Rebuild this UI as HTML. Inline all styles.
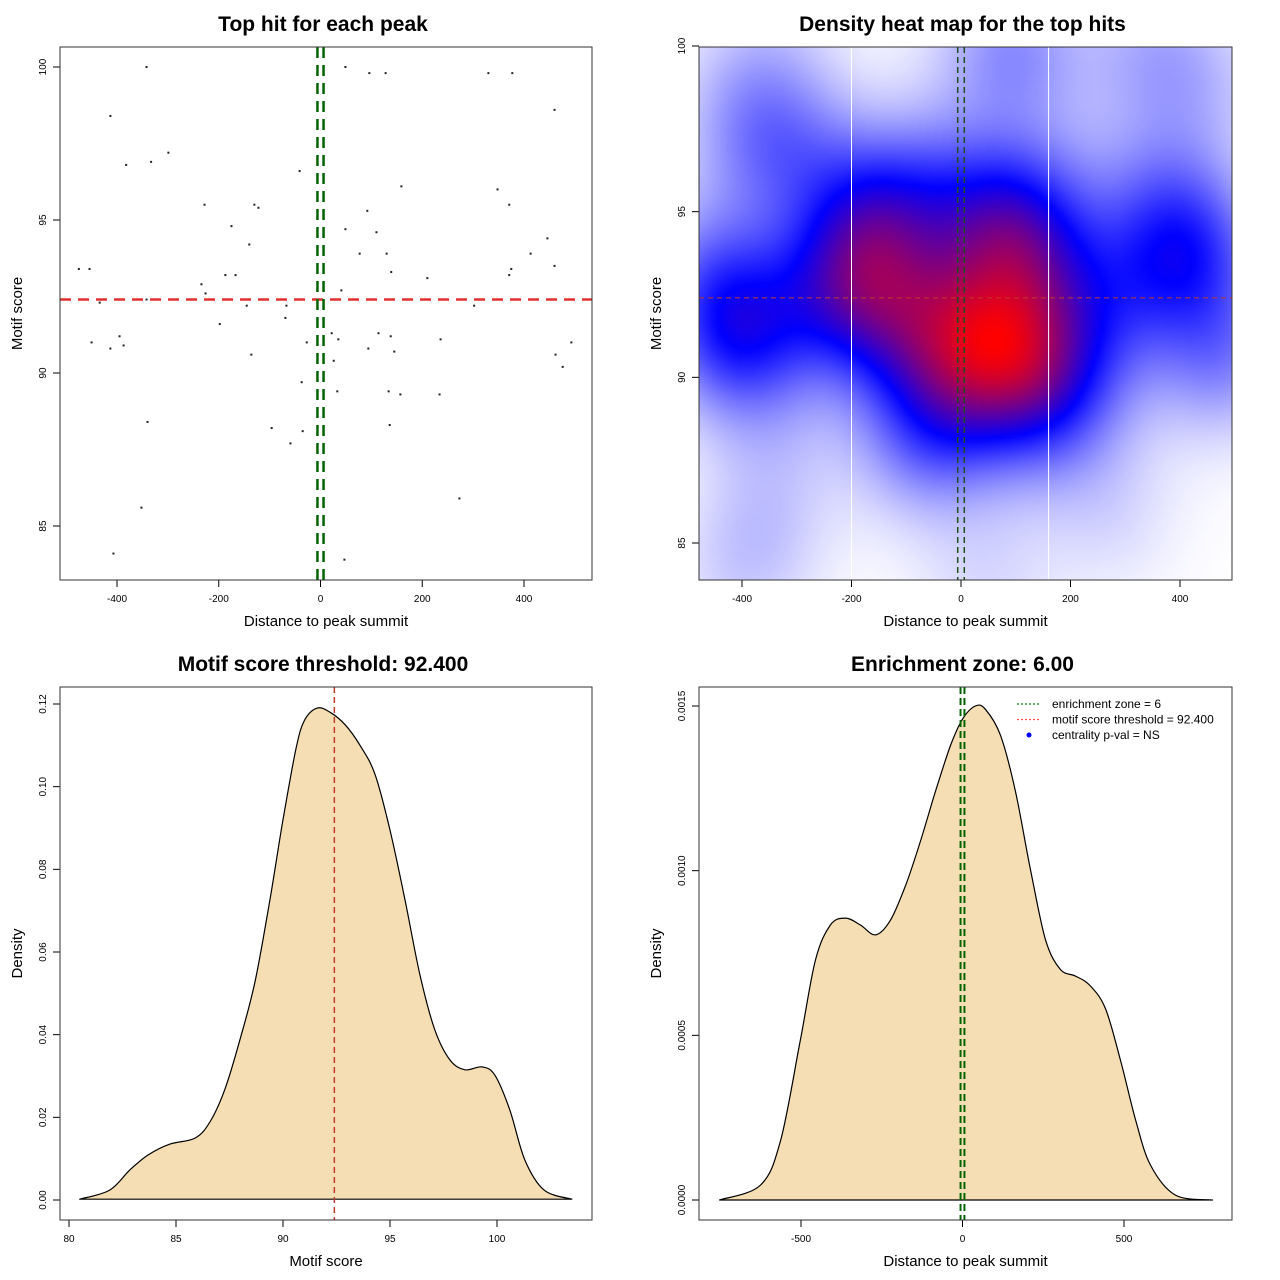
<!DOCTYPE html>
<html><head><meta charset="utf-8">
<style>
body{margin:0;background:#fff;}
#wrap{position:relative;width:1280px;height:1280px;overflow:hidden;font-family:"Liberation Sans",sans-serif;}
svg{position:absolute;left:0;top:0;}
#heat{position:absolute;left:699px;top:47px;width:533px;height:533px;}
</style></head>
<body>
<div id="wrap">
<canvas id="heat" width="133" height="133"></canvas>
<svg id="svg" width="1280" height="1280"></svg>
</div>
<script>
// ---- data ----
const hitDistance = [-342,-413,-382,-333,-299,-228,-175,-122,-130,-140,-41,-475,-454,-187,-167,-234,-226,-434,-342,-145,-67,-69,-198,-450,-413,-395,-387,-136,-37,-27,-96,-59,-35,-340,-352,-407,
 49,96,128,330,377,460,159,348,371,92,6,49,110,446,77,130,413,139,210,460,375,371,41,302,22,114,138,35,236,493,94,145,462,476,26,33,134,157,234,136,273,47];
const hitScore = [100,98.4,96.8,96.9,97.2,95.5,94.8,95.4,95.5,94.2,96.6,93.4,93.4,93.2,93.2,92.9,92.6,92.3,92.4,92.2,92.2,91.8,91.6,91.0,90.8,91.2,90.9,90.6,89.7,91.0,88.2,87.7,88.1,88.4,85.6,84.1,
 100,99.8,99.8,99.8,99.8,98.6,96.1,96.0,95.5,95.3,95.2,94.7,94.6,94.4,93.9,93.9,93.9,93.3,93.1,93.5,93.4,93.2,92.7,92.2,91.3,91.3,91.2,91.1,91.1,91.0,90.8,90.7,90.6,90.2,90.4,89.4,89.4,89.3,89.3,88.3,85.9,83.9];
const scoreX = [80.5,81.9,82.85,83.7,84.7,85.9,86.6,87.3,88.0,88.7,89.4,90.0,90.6,91.0,91.6,92.2,92.9,93.6,94.3,95.0,95.7,96.4,97.1,97.8,98.5,99.3,99.9,100.6,101.3,102.2,103.5];
const scoreDensity = [0.0002,0.0024,0.0073,0.0109,0.0135,0.015,0.019,0.027,0.039,0.053,0.073,0.092,0.109,0.116,0.119,0.118,0.115,0.110,0.103,0.0895,0.0726,0.0544,0.0411,0.0339,0.0315,0.0322,0.0302,0.0218,0.0097,0.0024,0.0002];
const distX = [-752,-625,-563,-502,-455,-409,-362,-316,-269,-223,-176,-130,-84,-37,0,40,71,118,164,211,257,303,350,396,443,489,536,582,659,774];
const distDensity = [0,0.0000455,0.000182,0.000486,0.000729,0.000835,0.000856,0.000835,0.000805,0.00085,0.000956,0.00109,0.00124,0.00138,0.00146,0.0015,0.00149,0.00141,0.00124,0.001,0.00079,0.0007,0.00068,0.00065,0.00058,0.000425,0.000243,0.000106,0.000015,0];
const scoreThreshold = 92.4;
const enrichZone = 6;
const p1XTicks = [-400,-200,0,200,400];
const p1YTicks = [85,90,95,100];
const p3XTicks = [80,85,90,95,100];
const p3YTicks = [0,0.02,0.04,0.06,0.08,0.10,0.12];
const p3YLabels = ["0.00","0.02","0.04","0.06","0.08","0.10","0.12"];
const p4XTicks = [-500,0,500];
const p4YTicks = [0,0.0005,0.001,0.0015];
const p4YLabels = ["0.0000","0.0005","0.0010","0.0015"];

const NS="http://www.w3.org/2000/svg";
const svg=document.getElementById('svg');
function el(tag,attrs,parent){const e=document.createElementNS(NS,tag);for(const k in attrs)e.setAttribute(k,attrs[k]);(parent||svg).appendChild(e);return e;}
function lin(d0,d1,r0,r1){return v=>r0+(v-d0)*(r1-r0)/(d1-d0);}
function smoothPath(pts){
  let d='M'+pts[0][0].toFixed(1)+','+pts[0][1].toFixed(1);
  for(let i=0;i<pts.length-1;i++){
    const p0=pts[Math.max(0,i-1)],p1=pts[i],p2=pts[i+1],p3=pts[Math.min(pts.length-1,i+2)];
    const c1=[p1[0]+(p2[0]-p0[0])/6,p1[1]+(p2[1]-p0[1])/6],c2=[p2[0]-(p3[0]-p1[0])/6,p2[1]-(p3[1]-p1[1])/6];
    d+=' C'+c1.map(v=>v.toFixed(1)).join(',')+' '+c2.map(v=>v.toFixed(1)).join(',')+' '+p2[0].toFixed(1)+','+p2[1].toFixed(1);
  }
  return d;
}

function panel(o){
  const g=el('g',{});
  
  
  const t=el('text',{x:(o.L+o.R)/2-3,y:o.T-16,'text-anchor':'middle','font-size':'21','font-weight':'bold',fill:'#000'},g);
  t.textContent=o.title;
  
  
  const xl=el('text',{x:(o.L+o.R)/2,y:o.B+46,'text-anchor':'middle','font-size':'15',fill:'#000'},g);
  xl.textContent=o.xlab;
  
  
  const yl=el('text',{x:0,y:0,'text-anchor':'middle','font-size':'15',fill:'#000',transform:`translate(${o.L-38},${(o.T+o.B)/2}) rotate(-90)`},g);
  yl.textContent=o.ylab;
  
  
  o.xt.forEach((v,i)=>{const x=o.sx(v);
    const tk=el('line',{x1:x,x2:x,y1:o.B,y2:o.B+7,stroke:'#000'},g);
    
    
    const lb=el('text',{x:x,y:o.B+22,'text-anchor':'middle','font-size':'10',fill:'#000'},g);
    lb.textContent=o.xlabels?o.xlabels[i]:String(v);
    
    });
  o.yt.forEach((v,i)=>{const y=o.sy(v);
    const tk=el('line',{x1:o.L-7,x2:o.L,y1:y,y2:y,stroke:'#000'},g);
    
    
    const lb=el('text',{x:0,y:0,'text-anchor':'middle','font-size':'10',fill:'#000',transform:`translate(${o.L-14},${y}) rotate(-90)`},g);
    lb.textContent=o.ylabels?o.ylabels[i]:String(v);
    
    });
  return g;
}
function box(g,L,T,R,B){const b=el('rect',{x:L,y:T,width:R-L,height:B-T,fill:'none',stroke:'#333','stroke-width':1},g);
  
  }

// ---- panel 1 scatter ----
{
 const L=60,T=47,R=592,B=580;
 const sx=lin(-400,400,117,524), sy=lin(85,100,526,67);
 const g=panel({name:'scatter-panel',L,T,R,B,sx,sy,xt:p1XTicks,yt:p1YTicks,title:'Top hit for each peak',xlab:'Distance to peak summit',ylab:'Motif score'});
 hitDistance.forEach((d,i)=>{const c=el('rect',{x:sx(d)-1,y:sy(hitScore[i])-1,width:2,height:2,fill:'#222'},g);
   
   });
 const h=el('line',{x1:L,x2:R,y1:sy(scoreThreshold),y2:sy(scoreThreshold),stroke:'#e03030','stroke-width':2.5,'stroke-dasharray':'11,7'},g);
 
 
 [-enrichZone,enrichZone].forEach(v=>{const l=el('line',{x1:sx(v),x2:sx(v),y1:T,y2:B,stroke:'#006400','stroke-width':2.5,'stroke-dasharray':'11,7'},g);
   
   });
 box(g,L,T,R,B);
}
// ---- panel 2 heatmap ----
{
 const L=699,T=47,R=1232,B=580;
 const sx=lin(-400,400,742,1180), sy=lin(85,100,543,46);
 const g=panel({name:'heatmap-panel',L,T,R,B,sx,sy,xt:p1XTicks,yt:p1YTicks,title:'Density heat map for the top hits',xlab:'Distance to peak summit',ylab:'Motif score'});
 const cv=document.getElementById('heat'),ctx=cv.getContext('2d');
 const N=133, img=ctx.createImageData(N,N), dens=[];let mx=0;
 const ix=lin(742,1180,-400,400), iy=lin(543,46,85,100);
 const bx=92,by=1.7;
 for(let j=0;j<N;j++)for(let i=0;i<N;i++){
   const x=ix(L+(i+0.5)*533/N), y=iy(T+(j+0.5)*533/N);let s=0;
   for(let k=0;k<hitDistance.length;k++){const dx=(x-hitDistance[k])/bx,dy=(y-hitScore[k])/by;s+=Math.exp(-0.5*(dx*dx+dy*dy));}
   dens.push(s);if(s>mx)mx=s;}
 for(let p=0;p<N*N;p++){const t=Math.pow(dens[p]/mx,1.1);let r,gg,b;
   if(t<0.5){const u=t/0.5;r=255*(1-u);gg=255*(1-u);b=255;}else{const u=(t-0.5)/0.5;r=255*u;gg=0;b=255*(1-u);}
   img.data[p*4]=r;img.data[p*4+1]=gg;img.data[p*4+2]=b;img.data[p*4+3]=255;}
 ctx.putImageData(img,0,0);
 [-200,160].forEach(v=>{const l=el('line',{x1:sx(v),x2:sx(v),y1:T,y2:B,stroke:'#fff','stroke-width':1},g);
   
   });
 const h=el('line',{x1:L,x2:R,y1:sy(scoreThreshold),y2:sy(scoreThreshold),stroke:'#c0392b','stroke-width':1,'stroke-dasharray':'5,4'},g);
 
 
 [-enrichZone,enrichZone].forEach(v=>{const l=el('line',{x1:sx(v),x2:sx(v),y1:T,y2:B,stroke:'#1f4f1f','stroke-width':1.5,'stroke-dasharray':'6,4'},g);
   
   });
 box(g,L,T,R,B);
}
// ---- panel 3 score density ----
{
 const L=60,T=687,R=592,B=1220;
 const sx=lin(80,100,69,497), sy=lin(0,0.12,1200,704);
 const g=panel({name:'score-density-panel',L,T,R,B,sx,sy,xt:p3XTicks,yt:p3YTicks,ylabels:p3YLabels,title:'Motif score threshold: 92.400',xlab:'Motif score',ylab:'Density'});
 const pts=scoreX.map((x,i)=>[sx(x),sy(scoreDensity[i])]);
 const d=smoothPath(pts)+' Z';
 const p=el('path',{d,fill:'#f5deb3',stroke:'#000','stroke-width':1.2,'stroke-linejoin':'round'},g);
 
 
 const v=el('line',{x1:sx(scoreThreshold),x2:sx(scoreThreshold),y1:T,y2:B,stroke:'#c0392b','stroke-width':1.5,'stroke-dasharray':'6,4'},g);
 
 
 box(g,L,T,R,B);
}
// ---- panel 4 distance density ----
{
 const L=699,T=687,R=1232,B=1220;
 const sx=lin(-500,500,801,1124), sy=lin(0,0.0015,1200,706);
 const g=panel({name:'distance-density-panel',L,T,R,B,sx,sy,xt:p4XTicks,yt:p4YTicks,ylabels:p4YLabels,title:'Enrichment zone: 6.00',xlab:'Distance to peak summit',ylab:'Density'});
 const pts=distX.map((x,i)=>[sx(x),sy(distDensity[i])]);
 const d=smoothPath(pts)+' Z';
 const p=el('path',{d,fill:'#f5deb3',stroke:'#000','stroke-width':1.2,'stroke-linejoin':'round'},g);
 
 
 [-enrichZone,enrichZone].forEach(v=>{const l=el('line',{x1:sx(v),x2:sx(v),y1:T,y2:B,stroke:'#006400','stroke-width':2,'stroke-dasharray':'7,4'},g);
   
   });
 box(g,L,T,R,B);
 const items=[['enrichment zone = 6','#0a7a0a','line'],['motif score threshold = 92.400','#ff5050','line'],['centrality p-val = NS','#0000ff','dot']];
 items.forEach((it,i)=>{const y=704+i*15.5;
   if(it[2]==='line'){const l=el('line',{x1:1017,x2:1041,y1:y,y2:y,stroke:it[1],'stroke-width':1.3,'stroke-dasharray':'2,2'},g);
     
     }
   else{const c=el('circle',{cx:1029,cy:y,r:2.5,fill:it[1]},g);
     
     }
   const t=el('text',{x:1052,y:y+4,'font-size':'12',fill:'#000'},g);
   t.textContent=it[0];
   
   });
}
</script>
</body></html>
